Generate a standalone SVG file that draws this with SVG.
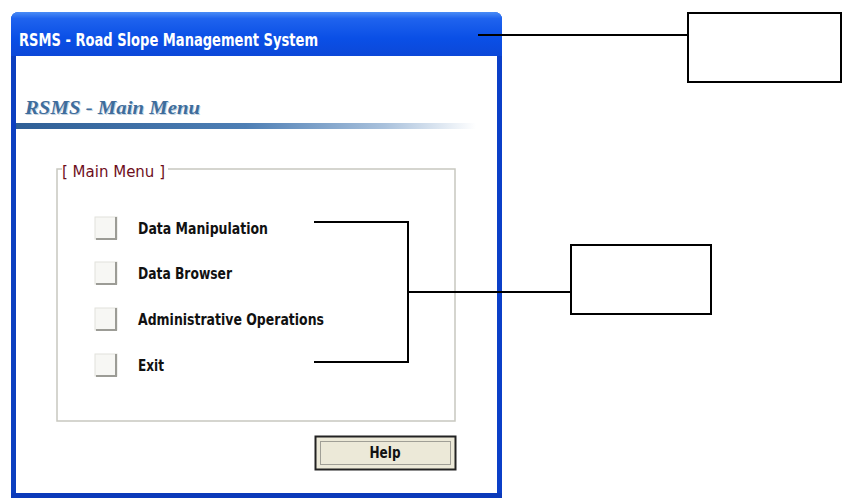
<svg xmlns="http://www.w3.org/2000/svg" width="843" height="498" viewBox="0 0 843 498">
  <defs>
    <linearGradient id="titleGrad" x1="0" y1="0" x2="0" y2="1">
      <stop offset="0" stop-color="#4a8cf6"/>
      <stop offset="0.15" stop-color="#1f63ee"/>
      <stop offset="0.6" stop-color="#0a4fe6"/>
      <stop offset="1" stop-color="#0c48d8"/>
    </linearGradient>
    <linearGradient id="ruleGrad" x1="0" y1="0" x2="1" y2="0">
      <stop offset="0" stop-color="#2f5f96"/>
      <stop offset="0.5" stop-color="#4e7fb5"/>
      <stop offset="0.8" stop-color="#a9c1dc"/>
      <stop offset="1" stop-color="#ffffff"/>
    </linearGradient>
    <style>
      .item { font-family: "DejaVu Sans Condensed", "Liberation Sans", sans-serif; font-weight: bold; font-size: 15.5px; fill: #111111; }
      .conn { fill: none; stroke: #000000; stroke-width: 2; }
      .callout { fill: #ffffff; stroke: #000000; stroke-width: 2; }
      .chk-face { fill: #f7f7f4; stroke: #e2e2dc; stroke-width: 1; }
      .chk-shade { fill: none; stroke: #9c9c96; stroke-width: 2; }
    </style>
  </defs>

  <rect width="843" height="498" fill="#ffffff"/>

  <!-- application window -->
  <g id="window">
    <path d="M11 497 V20 Q11 12 19 12 H494 Q502 12 502 20 V497 Z" fill="#0a4de0"/>
    <path d="M11 56 V20 Q11 12 19 12 H494 Q502 12 502 20 V56 Z" fill="url(#titleGrad)"/>
    <rect x="11" y="56" width="5" height="441" fill="#0c3fc0"/>
    <rect x="497" y="56" width="5" height="441" fill="#0b3fc8"/>
    <rect x="11" y="493" width="491" height="5" fill="#0b3aba"/>
    <rect x="16" y="56" width="481" height="437" fill="#ffffff"/>
    <text x="19" y="46" font-family="'DejaVu Sans Condensed', 'Liberation Sans', sans-serif" font-weight="bold" font-size="17.5" fill="#ffffff" textLength="299" lengthAdjust="spacingAndGlyphs">RSMS - Road Slope Management System</text>
  </g>

  <!-- form header -->
  <g id="header">
    <text x="25" y="114" font-family="'Liberation Serif', serif" font-style="italic" font-weight="bold" font-size="18" fill="#c6d3e0" textLength="175" lengthAdjust="spacingAndGlyphs" transform="translate(1 1)">RSMS - Main Menu</text>
    <text x="25" y="114" font-family="'Liberation Serif', serif" font-style="italic" font-weight="bold" font-size="18" fill="#3e6d9c" textLength="175" lengthAdjust="spacingAndGlyphs">RSMS - Main Menu</text>
    <rect x="16" y="123" width="460" height="6" fill="url(#ruleGrad)"/>
  </g>

  <!-- menu group box -->
  <g id="menu-group">
    <path d="M62 169 H57 V421 H455 V169 H168" fill="none" stroke="#c8c8c0" stroke-width="1.5"/>
    <text x="62" y="177" font-family="'DejaVu Sans Condensed', 'Liberation Sans', sans-serif" font-size="15" fill="#6e0e1c" textLength="103" lengthAdjust="spacingAndGlyphs">[ Main Menu ]</text>
  </g>

  <g id="item-data-manipulation">
    <rect class="chk-face" x="95" y="217" width="22" height="22"/>
    <path class="chk-shade" d="M116 217 V239 H96"/>
    <text class="item" x="138" y="234" textLength="130" lengthAdjust="spacingAndGlyphs">Data Manipulation</text>
  </g>
  <g id="item-data-browser">
    <rect class="chk-face" x="95" y="262" width="22" height="22"/>
    <path class="chk-shade" d="M116 262 V284 H96"/>
    <text class="item" x="138" y="279" textLength="94" lengthAdjust="spacingAndGlyphs">Data Browser</text>
  </g>
  <g id="item-admin-ops">
    <rect class="chk-face" x="95" y="308" width="22" height="22"/>
    <path class="chk-shade" d="M116 308 V330 H96"/>
    <text class="item" x="138" y="325" textLength="186" lengthAdjust="spacingAndGlyphs">Administrative Operations</text>
  </g>
  <g id="item-exit">
    <rect class="chk-face" x="95" y="354" width="22" height="22"/>
    <path class="chk-shade" d="M116 354 V376 H96"/>
    <text class="item" x="138" y="371" textLength="26" lengthAdjust="spacingAndGlyphs">Exit</text>
  </g>

  <g id="help-button">
    <rect x="315.5" y="436.5" width="140" height="33" fill="#ece9d8" stroke="#222222" stroke-width="2"/>
    <rect x="320.5" y="441.5" width="130" height="23" fill="none" stroke="#555555" stroke-width="1" stroke-dasharray="1 1"/>
    <text x="385" y="458" text-anchor="middle" font-family="'DejaVu Sans Condensed', 'Liberation Sans', sans-serif" font-weight="bold" font-size="16" fill="#111111" textLength="31" lengthAdjust="spacingAndGlyphs">Help</text>
  </g>

  <!-- callout boxes -->
  <g id="callout-title">
    <rect class="callout" x="688" y="13" width="153" height="69"/>
  </g>
  <g id="callout-menu">
    <rect class="callout" x="571" y="245" width="140" height="69"/>
  </g>

  <!-- connectors -->
  <g id="connectors">
    <path class="conn" d="M478 35 H688"/>
    <path class="conn" d="M314 222 H408 V362 H314"/>
    <path class="conn" d="M408 292 H571"/>
  </g>
</svg>
